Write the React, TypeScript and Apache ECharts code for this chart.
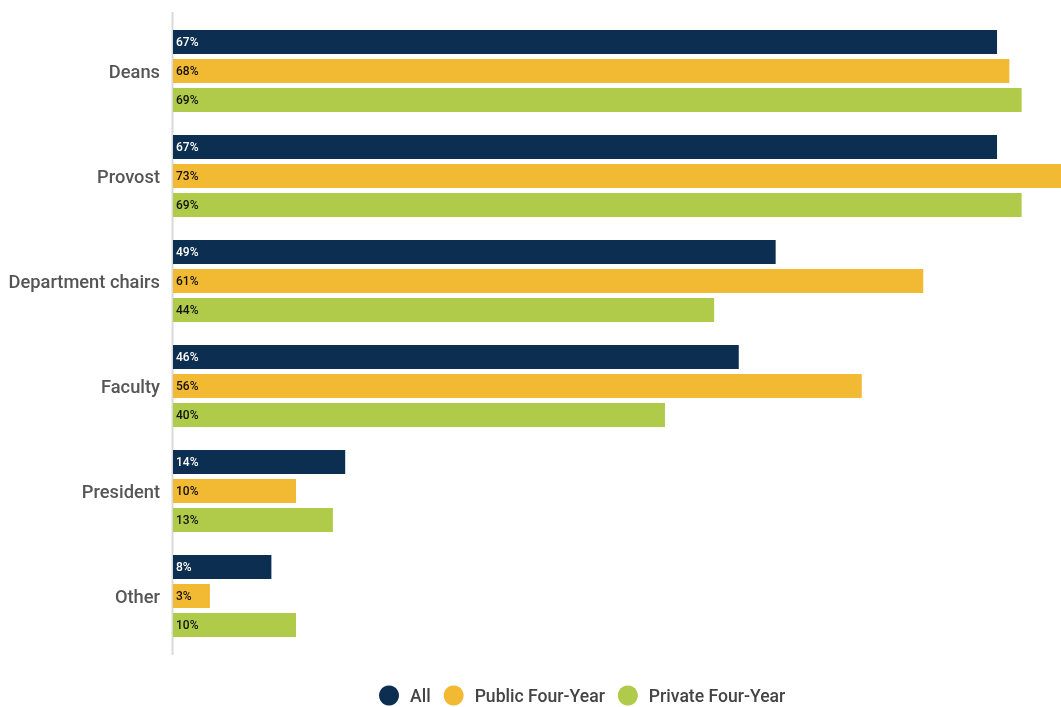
import React, { useEffect, useRef } from "react";
import * as echarts from "echarts";

const categories = ["Deans", "Provost", "Department chairs", "Faculty", "President", "Other"];
const seriesNames = ["All", "Public Four-Year", "Private Four-Year"];
const allValues = [67, 67, 49, 46, 14, 8];
const publicValues = [68, 73, 61, 56, 10, 3];
const privateValues = [69, 69, 44, 40, 13, 10];
const colors = ["#0c2e50", "#f2b933", "#afcb49"];
const labelColors = ["#ffffff", "#111111", "#111111"];

export default function App() {
  const ref = useRef<HTMLDivElement>(null);
  useEffect(() => {
    if (!ref.current) return;
    const chart = echarts.init(ref.current, undefined, { renderer: "svg" });
    const dataSets = [allValues, publicValues, privateValues];
    chart.setOption({
      animation: false,
      textStyle: { fontFamily: "Roboto" },
      grid: { left: 173, right: 0, top: 18.5, height: 630 },
      xAxis: { type: "value", min: 0, max: 72.2, show: false },
      yAxis: {
        type: "category",
        inverse: true,
        data: categories,
        axisLine: { show: false },
        axisTick: { show: false },
        axisLabel: { margin: 13, fontSize: 18.3, color: "#555555", fontFamily: "Roboto", fontWeight: 500 },
        splitLine: { show: false },
      },
      legend: {
        left: 379,
        top: 685.5,
        padding: 0,
        icon: "circle",
        itemWidth: 32,
        itemHeight: 20,
        itemGap: 13,
        textStyle: { fontSize: 17.6, color: "#444444", fontFamily: "Roboto", fontWeight: 500 },
        data: seriesNames,
      },
      graphic: [
        {
          type: "line",
          z: -1,
          shape: { x1: 172.5, y1: 12, x2: 172.5, y2: 655 },
          style: { stroke: "#d9d9d9", lineWidth: 2 },
        },
      ],
      series: seriesNames.map((name, i) => ({
        name,
        type: "bar",
        data: dataSets[i],
        barWidth: 24,
        barGap: "21%",
        itemStyle: { color: colors[i] },
        label: {
          show: true,
          position: "insideLeft",
          distance: 3,
          formatter: "{c}%",
          fontSize: 12,
          fontWeight: 500,
          fontFamily: "Roboto",
          color: labelColors[i],
        },
      })),
    });
    return () => chart.dispose();
  }, []);
  return <div ref={ref} style={{ position: "fixed", left: 0, top: 0, width: 1061, height: 707 }} />;
}
